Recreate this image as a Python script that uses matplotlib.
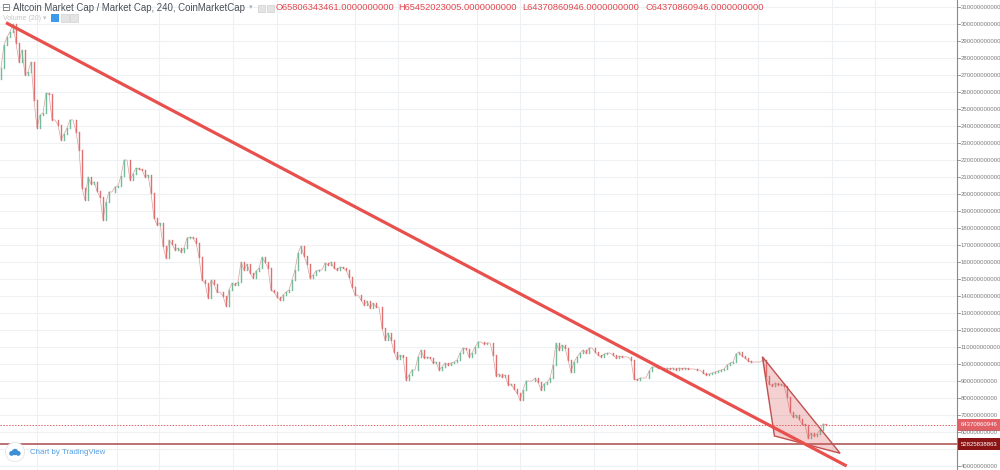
import matplotlib
matplotlib.use("Agg")
import matplotlib.pyplot as plt
from matplotlib.patches import Polygon, Rectangle, Circle
from matplotlib.collections import LineCollection
import numpy as np

plt.rcParams['font.family'] = ['Liberation Sans', 'DejaVu Sans']

# ---- data (values in billions USD, one candle per entry, open = previous close) ----
first_open = 268.0
closes = [
    274.3, 287.8, 292.5, 295.5, 300.2, 289.0, 277.8, 284.9, 270.1, 271.9,
    277.8, 255.4, 238.9, 246.6, 247.8, 259.5, 259.0, 243.7, 243.7, 240.7,
    231.9, 235.4, 238.9, 243.7, 243.7, 236.6, 226.0, 203.6, 196.6, 210.1,
    206.0, 207.2, 201.9, 198.3, 184.8, 195.4, 201.3, 201.3, 204.2, 204.8,
    210.7, 220.1, 220.1, 208.3, 211.9, 215.4, 214.8, 214.2, 210.1, 211.3,
    200.7, 186.0, 181.9, 183.0, 169.5, 162.4, 173.0, 170.7, 167.1, 168.3,
    166.0, 168.3, 174.2, 174.8, 174.2, 171.3, 163.0, 149.5, 147.7, 138.9,
    149.5, 147.1, 142.4, 142.4, 140.1, 134.2, 143.6, 147.7, 146.5, 148.3,
    160.1, 155.4, 158.9, 153.6, 150.7, 154.8, 156.5, 163.0, 160.1, 156.5,
    143.6, 142.4, 139.5, 137.7, 140.6, 142.4, 143.6, 149.5, 155.4, 165.4,
    169.5, 163.6, 158.9, 150.7, 152.4, 154.8, 155.4, 155.4, 159.5, 158.3,
    160.1, 156.5, 155.4, 157.1, 156.5, 155.4, 151.2, 145.4, 140.6, 140.6,
    137.7, 134.8, 137.1, 133.0, 135.9, 133.6, 133.6, 121.2, 114.2, 118.3,
    114.2, 107.1, 103.0, 105.3, 104.2, 90.6, 93.6, 96.5, 96.5, 104.2,
    108.3, 103.6, 104.2, 103.6, 100.6, 101.2, 96.5, 98.3, 100.6, 99.4,
    100.6, 101.2, 102.4, 106.5, 109.5, 108.9, 104.2, 106.5, 110.0, 113.0,
    113.0, 111.8, 112.4, 112.4, 105.3, 93.0, 94.2, 92.4, 93.6, 87.7,
    88.3, 85.3, 83.0, 78.8, 84.7, 90.0, 90.0, 90.0, 91.8, 89.4,
    84.7, 88.3, 89.4, 91.8, 99.4, 112.4, 108.3, 111.2, 109.5, 102.4,
    95.3, 101.2, 104.2, 106.5, 108.3, 106.5, 109.5, 109.5, 107.1, 105.3,
    104.2, 105.9, 106.5, 106.5, 105.3, 103.6, 104.7, 104.2, 104.2, 104.2,
    102.4, 91.2, 90.6, 91.8, 91.8, 91.8, 95.9, 98.3, 98.3, 97.7,
    97.7, 96.5, 97.7, 97.1, 97.7, 96.5, 97.7, 97.1, 97.7, 97.1,
    97.1, 97.1, 96.5, 96.5, 94.7, 93.6, 94.2, 94.7, 95.3, 95.9,
    96.5, 97.1, 99.4, 100.6, 101.2, 105.9, 107.1, 104.7, 103.6, 101.8,
    101.2, 101.2, 101.2, 101.2, 102.4, 93.0, 88.3, 87.1, 88.9, 87.7,
    88.3, 87.1, 80.6, 71.8, 68.8, 70.0, 67.7, 64.7, 64.1, 56.5,
    59.4, 57.7, 58.8, 61.2, 64.7, 64.370860946,
]

y_ticks = list(range(40, 320, 10))          # billions
last_close = 64.370860946
support_level = 52.825838863
ohlc_labels = ["O65806343461.0000000000", "H65452023005.0000000000",
               "L64370860946.0000000000", "C64370860946.0000000000"]
title = "Altcoin Market Cap / Market Cap, 240, CoinMarketCap"

# drawings (candle index, billions)
trend_x = [1.67, 281.9]
trend_y = [300.9, 40.0]
wedge_x = [253.8, 257.8, 279.7]
wedge_y = [104.3, 57.7, 47.5]
grid_x = [12, 38.67, 52.67, 77.33, 92, 118, 132.33, 158.67, 173, 197.67,
          212, 238, 252.33, 277, 291.33]

# ---- figure ----
W, H = 1000, 470
YMIN, YMAX = 37.65, 314.28
fig = plt.figure(figsize=(W / 100, H / 100), dpi=100)
ax = fig.add_axes([0, 0, 957 / W, 1])
ax.set_xlim(-1 / 3, 956 / 3)
ax.set_ylim(YMIN, YMAX)
for s in ax.spines.values():
    s.set_visible(False)
ax.set_xticks([])
ax.set_yticks([])

grid_c = '#edf1f3'
for g in grid_x:
    ax.axvline(g, color=grid_c, lw=0.8, zorder=0)
for t in y_ticks:
    ax.axhline(t, color=grid_c, lw=0.8, zorder=0)

# candles
opens = [first_open] + closes[:-1]
xs = np.arange(len(closes))
up_c, dn_c = '#74bb9a', '#e07070'
ax.plot(xs, closes, color='#d9a0a0', lw=0.5, zorder=2)
segs, cols = [], []
for x, o, c in zip(xs, opens, closes):
    segs.append([(x, o), (x, c)])
    cols.append(up_c if c >= o else dn_c)
lc = LineCollection(segs, colors=cols, linewidths=1.0, capstyle='projecting', zorder=3)
ax.add_collection(lc)

# horizontal levels
ax.axhline(support_level, color='#a94a4a', lw=1.1, zorder=2)
ax.axhline(last_close, color='#e06868', lw=0.7, ls=(0, (1.5, 1.5)), zorder=2)

# wedge and trend line
ax.add_patch(Polygon(list(zip(wedge_x, wedge_y)), closed=True,
                     facecolor=(0.86, 0.35, 0.35, 0.28), edgecolor='#c25050',
                     lw=1.0, zorder=4))
ax.plot(trend_x, trend_y, color='#e8504d', lw=2.3, solid_capstyle='butt', zorder=5)

# ---- price axis ----
ax_x1 = 957 / W
fig.add_artist(plt.Line2D([ax_x1, ax_x1], [0, 1], color='#8a8a8a', lw=0.8))
def fy(v):
    return (v - YMIN) / (YMAX - YMIN)
for t in y_ticks:
    if abs(t - 50) < 1:
        continue
    yy = fy(t)
    if yy > 0.995:
        continue
    fig.add_artist(plt.Line2D([ax_x1, ax_x1 + 3 / W], [yy, yy], color='#8a8a8a', lw=0.6))
    fig.text(ax_x1 + 4 / W, yy, f"{t * 1e9:.0f}", fontsize=4.3, color='#7b7b7b',
             va='center', ha='left')

for v, bg in [(last_close, '#e25f66'), (support_level, '#8b1414')]:
    yy = fy(v)
    fig.add_artist(Rectangle((ax_x1, yy - 6 / H), 1 - ax_x1, 12 / H,
                             transform=fig.transFigure, facecolor=bg, edgecolor='none'))
    fig.text(ax_x1 + 4 / W, yy, f"{v * 1e9:.0f}", fontsize=4.3, color='white',
             va='center', ha='left')

# ---- header ----
fig.text(1 / W, 1 - 8 / H, "⊟", fontsize=7.5, color='#6a6f78', va='center', ha='left',
         family='DejaVu Sans')
fig.text(13 / W, 1 - 8 / H, title, fontsize=6.9, color='#4a4f58', va='center', ha='left')
fig.text(249 / W, 1 - 8 / H, "▾", fontsize=5, color='#b0b0b0', va='center', ha='left')
for px in (258, 267):
    fig.add_artist(Rectangle((px / W, 1 - 12 / H), 7 / W, 7 / H, transform=fig.transFigure,
                             facecolor='#e4e4e4', edgecolor='#cfcfcf', lw=0.5))
ox = [276, 398, 522, 645]
for px, lab in zip(ox, ohlc_labels):
    fig.text(px / W, 1 - 8 / H, lab, fontsize=6.7, color='#e2474f', va='center', ha='left')

fig.text(3 / W, 1 - 18 / H, "Volume (20) ▾", fontsize=5, color='#c4c4c4', va='center', ha='left')
fig.add_artist(Rectangle((51 / W, 1 - 22 / H), 8 / W, 8 / H, transform=fig.transFigure,
                         facecolor='#3d9be9', edgecolor='none'))
for px in (61, 70):
    fig.add_artist(Rectangle((px / W, 1 - 22 / H), 8 / W, 8 / H, transform=fig.transFigure,
                             facecolor='#e4e4e4', edgecolor='#d0d0d0', lw=0.5))

# ---- watermark ----
ax2 = fig.add_axes([5 / W, 1 - 462 / H, 20 / W, 20 / H])
ax2.set_xlim(0, 1); ax2.set_ylim(0, 1); ax2.axis('off')
ax2.add_patch(Circle((0.5, 0.5), 0.48, facecolor='white', edgecolor='#e6e6e6', lw=0.6))
ax2.add_patch(Circle((0.5, 0.5), 0.16, facecolor='#3d8fd6', edgecolor='none'))
ax2.add_patch(Circle((0.33, 0.43), 0.12, facecolor='#3d8fd6', edgecolor='none'))
ax2.add_patch(Circle((0.66, 0.43), 0.12, facecolor='#3d8fd6', edgecolor='none'))
ax2.add_patch(Rectangle((0.25, 0.33), 0.5, 0.12, facecolor='#3d8fd6', edgecolor='none'))
fig.text(30 / W, 1 - 452 / H, "Chart by TradingView", fontsize=5.7, color='#55a0e3',
         va='center', ha='left')

fig.savefig("out.png", dpi=100)
